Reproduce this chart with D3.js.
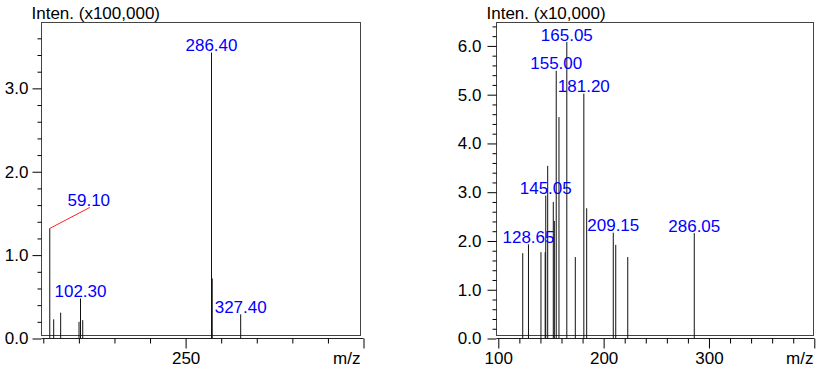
<!DOCTYPE html>
<html>
<head>
<meta charset="utf-8">
<script src="https://cdn.jsdelivr.net/npm/d3@7"></script>
<style>
  html, body { margin: 0; padding: 0; background: #fff; }
  svg { display: block; font-family: "Liberation Sans", Arial, sans-serif; }
</style>
</head>
<body>
<div id="chart"></div>
<script>
// panel izquierdo (x100,000)
const leftMz = [59.1, 64.6, 74.4, 100.2, 102.3, 105.4, 286.4, 287.4, 327.4];
const leftInt = [1.32, 0.23, 0.31, 0.20, 0.48, 0.22, 3.43, 0.72, 0.29];
const leftLabels = ["59.10", "", "", "", "102.30", "", "286.40", "", "327.40"];
const leftMajorX = [250, 500];
const leftMinorX = [50, 100, 150, 200, 300, 350, 400, 450];
const leftYTicks = [0, 1, 2, 3];

// panel derecho (x10,000)
const rightMz = [123.2, 128.65, 140.5, 144.5, 145.05, 146.9, 152.2, 153.2, 155.0, 157.6, 165.05, 173.1, 181.2, 183.9, 209.15, 211.5, 222.9, 286.05];
const rightInt = [1.75, 1.93, 1.77, 1.77, 2.93, 3.54, 2.80, 2.41, 5.49, 4.54, 6.08, 1.67, 5.02, 2.67, 2.17, 1.92, 1.67, 2.16];
const rightLabels = ["", "128.65", "", "", "145.05", "", "", "", "155.00", "", "165.05", "", "181.20", "", "209.15", "", "", "286.05"];
const rightMajorX = [100, 200, 300, 400];
const rightMinorX = [120, 140, 160, 180, 220, 240, 260, 280, 320, 340, 360, 380];
const rightYTicks = [0, 1, 2, 3, 4, 5, 6];

const W = 824, H = 368;
const FONT = 17;

const svg = d3.select("#chart").append("svg").attr("width", W).attr("height", H);

function drawPanel(cfg) {
  const g = svg.append("g");
  const x = d3.scaleLinear().domain(cfg.xDomain).range(cfg.xRange);
  const y = d3.scaleLinear().domain([0, cfg.yMax]).range([cfg.axisY, cfg.top]);

  // marco
  g.append("rect")
    .attr("x", cfg.left).attr("y", cfg.top)
    .attr("width", cfg.right - cfg.left).attr("height", cfg.bottom - cfg.top)
    .attr("fill", "none").attr("stroke", "#444").attr("stroke-width", 1);

  // eje y: menores cada 0.2
  const minorY = d3.range(0, cfg.yMax, 0.2).filter((v) => Math.abs(v - Math.round(v)) > 0.01);
  g.append("g")
    .attr("transform", `translate(${cfg.left},0)`)
    .call(d3.axisLeft(y).tickValues(minorY).tickSize(4).tickFormat(""))
    .call((a) => a.select(".domain").remove());
  g.append("g")
    .attr("transform", `translate(${cfg.left},0)`)
    .call(d3.axisLeft(y).tickValues(cfg.yTicks).tickSize(9).tickPadding(cfg.yPad).tickFormat(d3.format(".1f")))
    .call((a) => a.select(".domain").remove())
    .call((a) => a.selectAll("text").attr("font-size", FONT).attr("font-family", null).attr("fill", "#000"));

  // eje x
  const xAxisY = cfg.axisY;
  g.append("line")
    .attr("x1", cfg.left).attr("x2", x(cfg.xDomain[1]))
    .attr("y1", xAxisY).attr("y2", xAxisY)
    .attr("stroke", "#222");
  g.append("g")
    .attr("transform", `translate(0,${xAxisY})`)
    .call(d3.axisBottom(x).tickValues(cfg.minorX).tickSize(5).tickFormat(""))
    .call((a) => a.select(".domain").remove());
  g.append("g")
    .attr("transform", `translate(0,${xAxisY})`)
    .call(d3.axisBottom(x).tickValues(cfg.majorX).tickSize(10).tickPadding(3)
      .tickFormat((d) => (d === cfg.xDomain[1] ? "" : d)))
    .call((a) => a.select(".domain").remove())
    .call((a) => a.selectAll("text").attr("font-size", FONT).attr("font-family", null).attr("fill", "#000"));

  g.append("text")
    .attr("x", cfg.right).attr("y", 364)
    .attr("text-anchor", "end").attr("font-size", FONT)
    .text("m/z");

  g.append("text")
    .attr("x", cfg.titleX).attr("y", 19)
    .attr("font-size", FONT)
    .text(cfg.title);

  // picos
  const data = cfg.mz.map((m, i) => ({ mz: m, inten: cfg.inten[i], label: cfg.labels[i] }));
  g.selectAll("line.peak")
    .data(data)
    .join("line")
    .attr("class", "peak")
    .attr("x1", (d) => x(d.mz)).attr("x2", (d) => x(d.mz))
    .attr("y1", xAxisY).attr("y2", (d) => y(d.inten))
    .attr("stroke", "#111").attr("stroke-width", 1);

  const labeled = data.filter((d) => d.label);
  labeled.forEach((d) => {
    const off = cfg.leader[d.label];
    let lx = x(d.mz), ly = y(d.inten) - 1.5;
    if (off) {
      g.append("line")
        .attr("x1", x(d.mz)).attr("y1", y(d.inten))
        .attr("x2", x(d.mz) + off[0]).attr("y2", y(d.inten) + off[1])
        .attr("stroke", "#ff2020").attr("stroke-width", 1);
      lx = x(d.mz) + off[0] - 1;
      ly = y(d.inten) + off[1] - 1.5;
    }
    g.append("text")
      .attr("x", lx).attr("y", ly)
      .attr("text-anchor", "middle")
      .attr("font-size", FONT)
      .attr("fill", "#0000ff")
      .text(d.label);
  });
}

drawPanel({
  mz: leftMz, inten: leftInt, labels: leftLabels,
  xDomain: [50, 500], xRange: [43.3, 363.5],
  left: 41.5, right: 360.5, top: 22.5, bottom: 335.5, axisY: 338.5,
  yMax: 3.79, yTicks: leftYTicks, yPad: 4,
  majorX: leftMajorX, minorX: leftMinorX,
  title: "Inten. (x100,000)", titleX: 31.5,
  leader: { "59.10": [40, -21] }
});

drawPanel({
  mz: rightMz, inten: rightInt, labels: rightLabels,
  xDomain: [100, 400], xRange: [498.3, 814.3],
  left: 496.5, right: 813.5, top: 22.5, bottom: 335.5, axisY: 338.5,
  yMax: 6.48, yTicks: rightYTicks, yPad: 6,
  majorX: rightMajorX, minorX: rightMinorX,
  title: "Inten. (x10,000)", titleX: 486.5,
  leader: {}
});
</script>
</body>
</html>
